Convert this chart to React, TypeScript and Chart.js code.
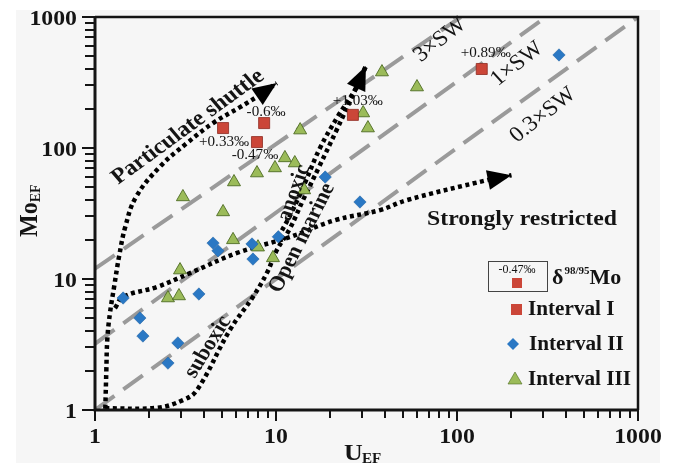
import React, { useEffect, useRef } from 'react';
import { Chart, registerables } from 'chart.js';
Chart.register(...registerables);

// ---- data ----
const INTERVAL_I_U = [5.1, 8.6, 7.85, 26.6, 137];
const INTERVAL_I_MO = [142, 155, 111, 179, 401];
const INTERVAL_I_DELTA = ['+0.33‰', '-0.6‰', '-0.47‰', '+1.03‰', '+0.89‰'];

const INTERVAL_II_U = [366, 29.1, 18.7, 10.3, 4.49, 4.78, 7.37, 7.46, 1.43, 1.77, 1.84, 3.75, 2.87, 2.53];
const INTERVAL_II_MO = [513, 38.7, 60, 21, 18.8, 16.4, 18.5, 14.2, 7.16, 5.04, 3.67, 7.68, 3.25, 2.28];

const INTERVAL_III_U = [13.6, 11.2, 12.7, 9.87, 7.85, 5.86, 14.3, 3.06, 5.1, 5.79, 7.95, 9.62, 2.95, 2.53, 2.91, 38.5, 60.1, 30.3, 32.2];
const INTERVAL_III_MO = [137, 84, 76.8, 70.4, 64.4, 55, 47.8, 42.3, 32.5, 19.9, 17.5, 14.5, 11.7, 7.16, 7.42, 380, 292, 185, 142];

// seawater reference lines (Mo_EF vs U_EF)
const SW3_U = [1, 105];
const SW3_MO = [12, 1000];
const SW1_U = [1, 310];
const SW1_MO = [3.2, 1000];
const SW03_U = [1, 1000];
const SW03_MO = [1, 1000];

// dotted trend curves (last point = arrow tip)
const SHUTTLE_U = [1.14, 1.155, 1.17, 1.21, 1.28, 1.36, 1.47, 1.68, 2.28, 3.22, 4.49, 6.33, 7.95, 10.1];
const SHUTTLE_MO = [1.02, 2, 3.5, 5.5, 9, 15, 25, 42, 71.8, 109, 155, 205, 249, 313];

const OPEN_RIGHT_U = [1.14, 2.2, 3.06, 3.66, 5.56, 7.45, 8.9, 10.1, 11.9, 14.1, 17.3, 21.5, 27.7, 31.4];
const OPEN_RIGHT_MO = [1.03, 1.04, 1.19, 1.42, 4.08, 7.29, 11.1, 16.6, 24.1, 40, 71.8, 135, 287, 423];

const OPEN_LEFT_U = [10.3, 12.3, 14.6, 17.5, 22, 27.7, 31.4];
const OPEN_LEFT_MO = [20.9, 33, 56, 100, 175, 287, 423];

const RESTRICTED_U = [1.29, 1.43, 2.2, 3.35, 6.09, 11.9, 21.2, 37.6, 52.8, 148, 200];
const RESTRICTED_MO = [6.0, 7.3, 8.7, 11.1, 15.8, 20.9, 28.1, 33.6, 40, 57, 62];

// axis ticks
const TICK_VALUES = [1, 10, 100, 1000];
const TICK_LABELS = ['1', '10', '100', '1000'];
const MINOR_STEPS = [2, 3, 4, 5, 6, 7, 8, 9];

// ---- styles ----
const RED = '#cb4638';
const RED_EDGE = '#8e2a20';
const BLUE = '#2a78c4';
const BLUE_EDGE = '#1c5c9c';
const GREEN = '#9bbb59';
const GREEN_EDGE = '#4d6b22';
const INK = '#141414';
const SERIF = '"Liberation Serif", "Times New Roman", serif';
const SX = 1.08;

// label offsets (pixels) for the delta labels of Interval I
const DELTA_OFFSETS = [[1, 14], [2, -11], [-2, 13], [5, -14], [4, -16]];

const zip = (xs: number[], ys: number[]) => xs.map((x, i) => ({ x, y: ys[i] }));

function txt(ctx: CanvasRenderingContext2D, s: string, x: number, y: number, font: string,
  align: CanvasTextAlign = 'center', baseline: CanvasTextBaseline = 'middle', angleDeg = 0, color = INK, sx = SX) {
  ctx.save();
  ctx.translate(x, y);
  const th = (angleDeg * Math.PI) / 180;
  const thp = Math.atan2(sx * Math.sin(th), Math.cos(th));
  ctx.scale(sx, 1);
  ctx.rotate(thp);
  ctx.font = font;
  ctx.textAlign = align;
  ctx.textBaseline = baseline;
  ctx.fillStyle = color;
  ctx.fillText(s, 0, 0);
  ctx.restore();
}

function arrowHead(ctx: CanvasRenderingContext2D, fx: number, fy: number, tx: number, ty: number, len = 24, hw = 10) {
  const a = Math.atan2(ty - fy, tx - fx);
  const bx = tx - len * Math.cos(a);
  const by = ty - len * Math.sin(a);
  ctx.save();
  ctx.fillStyle = '#000';
  ctx.beginPath();
  ctx.moveTo(tx, ty);
  ctx.lineTo(bx + hw * Math.sin(a), by - hw * Math.cos(a));
  ctx.lineTo(bx - hw * Math.sin(a), by + hw * Math.cos(a));
  ctx.closePath();
  ctx.fill();
  ctx.restore();
}

const decorPlugin = {
  id: 'decor',
  beforeDraw(chart: any) {
    const ctx = chart.ctx as CanvasRenderingContext2D;
    ctx.save();
    ctx.fillStyle = '#ffffff';
    ctx.fillRect(0, 0, chart.width, chart.height);
    ctx.fillStyle = '#f6f6f6';
    ctx.fillRect(16, 10, 644, 453);
    ctx.restore();
  },
  afterDraw(chart: any) {
    const ctx = chart.ctx as CanvasRenderingContext2D;
    const xs = chart.scales.x;
    const ys = chart.scales.y;
    const { left, right, top, bottom } = chart.chartArea;
    const X = (v: number) => xs.getPixelForValue(v);
    const Y = (v: number) => ys.getPixelForValue(v);

    // arrowheads
    const arrows: [number[], number[]][] = [
      [SHUTTLE_U, SHUTTLE_MO],
      [OPEN_RIGHT_U, OPEN_RIGHT_MO],
      [RESTRICTED_U, RESTRICTED_MO],
    ];
    arrows.forEach(([u, m]) => {
      const n = u.length;
      arrowHead(ctx, X(u[n - 2]), Y(m[n - 2]), X(u[n - 1]), Y(m[n - 1]));
    });

    // frame and axes
    ctx.save();
    ctx.strokeStyle = INK;
    ctx.lineWidth = 2.5;
    ctx.beginPath();
    ctx.moveTo(left, top);
    ctx.lineTo(right, top);
    ctx.lineTo(right, bottom);
    ctx.stroke();
    ctx.lineWidth = 3;
    ctx.beginPath();
    ctx.moveTo(left, top - 1);
    ctx.lineTo(left, bottom);
    ctx.lineTo(right + 1, bottom);
    ctx.stroke();

    // ticks
    ctx.lineWidth = 2;
    const all: { v: number; major: boolean }[] = [];
    TICK_VALUES.forEach((d, i) => {
      all.push({ v: d, major: true });
      if (i < TICK_VALUES.length - 1) MINOR_STEPS.forEach((m) => all.push({ v: d * m, major: false }));
    });
    all.forEach(({ v, major }) => {
      const py = Math.round(Y(v));
      ctx.beginPath();
      ctx.moveTo(left - (major ? 13 : 10), py);
      ctx.lineTo(left, py);
      ctx.stroke();
      const px = Math.round(X(v));
      ctx.beginPath();
      ctx.moveTo(px, bottom);
      ctx.lineTo(px, bottom + (major ? 11 : 8));
      ctx.stroke();
    });
    ctx.restore();

    // tick labels
    const tickFont = `bold 22px ${SERIF}`;
    TICK_VALUES.forEach((v, i) => {
      txt(ctx, TICK_LABELS[i], 77, Y(v) + 2, tickFont, 'right', 'middle');
      txt(ctx, TICK_LABELS[i], X(v), bottom + 27, tickFont, 'center', 'middle');
    });

    // axis titles
    txt(ctx, 'U', 344, 460, `bold 24px ${SERIF}`, 'left', 'alphabetic');
    txt(ctx, 'EF', 362, 463, `bold 14px ${SERIF}`, 'left', 'alphabetic');
    ctx.save();
    ctx.translate(37, 237);
    ctx.scale(SX, 1);
    ctx.rotate(-Math.PI / 2);
    ctx.fillStyle = INK;
    ctx.textBaseline = 'alphabetic';
    ctx.textAlign = 'left';
    ctx.font = `bold 24px ${SERIF}`;
    ctx.fillText('Mo', 0, 0);
    const w = ctx.measureText('Mo').width;
    ctx.font = `bold 14px ${SERIF}`;
    ctx.fillText('EF', w, 3);
    ctx.restore();

    // delta labels
    INTERVAL_I_DELTA.forEach((s, i) => {
      txt(ctx, s, X(INTERVAL_I_U[i]) + DELTA_OFFSETS[i][0], Y(INTERVAL_I_MO[i]) + DELTA_OFFSETS[i][1],
        `14px ${SERIF}`, 'center', 'middle');
    });

    // annotations
    txt(ctx, 'Particulate shuttle', 188, 127, `bold 22px ${SERIF}`, 'center', 'middle', -36);
    txt(ctx, '3×SW', 440, 40, `22px ${SERIF}`, 'center', 'middle', -38);
    txt(ctx, '1×SW', 517, 64, `22px ${SERIF}`, 'center', 'middle', -38);
    txt(ctx, '0.3×SW', 543, 115, `22px ${SERIF}`, 'center', 'middle', -38);
    txt(ctx, 'Strongly restricted', 522, 219, `bold 22px ${SERIF}`, 'center', 'middle');
    txt(ctx, 'anoxic', 294, 193, `bold 21px ${SERIF}`, 'center', 'middle', -70);
    txt(ctx, 'Open marine', 302, 238, `bold 21px ${SERIF}`, 'center', 'middle', -63);
    txt(ctx, 'suboxic', 208, 347, `bold 21px ${SERIF}`, 'center', 'middle', -58);

    // legend
    ctx.save();
    ctx.strokeStyle = '#444';
    ctx.lineWidth = 1;
    ctx.strokeRect(488.5, 261.5, 59, 30);
    ctx.fillStyle = RED;
    ctx.fillRect(512, 278, 10, 10);
    ctx.restore();
    txt(ctx, '-0.47‰', 517, 270, `12px ${SERIF}`, 'center', 'middle', 0, INK, 1);
    // delta symbol
    ctx.save();
    ctx.fillStyle = INK;
    ctx.textBaseline = 'alphabetic';
    ctx.textAlign = 'left';
    ctx.font = `bold 22px ${SERIF}`;
    ctx.fillText('δ', 552, 284);
    const dw = ctx.measureText('δ').width;
    ctx.font = `bold 11px ${SERIF}`;
    ctx.fillText('98/95', 552 + dw + 1, 274);
    const sw = ctx.measureText('98/95').width;
    ctx.font = `bold 22px ${SERIF}`;
    ctx.fillText('Mo', 552 + dw + sw + 1, 284);
    ctx.restore();

    // legend markers
    ctx.save();
    ctx.fillStyle = RED;
    ctx.strokeStyle = RED_EDGE;
    ctx.lineWidth = 0.6;
    ctx.fillRect(511, 304, 11, 11);
    ctx.fillStyle = BLUE;
    ctx.beginPath();
    ctx.moveTo(513, 338);
    ctx.lineTo(519, 344);
    ctx.lineTo(513, 350);
    ctx.lineTo(507, 344);
    ctx.closePath();
    ctx.fill();
    ctx.fillStyle = GREEN;
    ctx.strokeStyle = GREEN_EDGE;
    ctx.beginPath();
    ctx.moveTo(515, 372);
    ctx.lineTo(522, 384);
    ctx.lineTo(508, 384);
    ctx.closePath();
    ctx.fill();
    ctx.stroke();
    ctx.restore();
    const legFont = `bold 20px ${SERIF}`;
    txt(ctx, 'Interval I', 528, 310, legFont, 'left', 'middle', 0, INK, 1.06);
    txt(ctx, 'Interval II', 529, 345, legFont, 'left', 'middle', 0, INK, 1.06);
    txt(ctx, 'Interval III', 528, 380, legFont, 'left', 'middle', 0, INK, 1.06);
  },
};

export default function App() {
  const ref = useRef<HTMLCanvasElement | null>(null);
  useEffect(() => {
    if (!ref.current) return;
    const dashed = (u: number[], m: number[]) => ({
      data: zip(u, m), showLine: true, borderColor: '#9a9a9a', borderWidth: 4,
      borderDash: [24, 11], pointRadius: 0, fill: false, order: 3,
    });
    const dotted = (u: number[], m: number[]) => ({
      data: zip(u, m), showLine: true, borderColor: '#000', borderWidth: 4.5,
      borderDash: [4, 3.5], pointRadius: 0, fill: false, tension: 0.4, order: 2,
    });
    const chart = new Chart(ref.current, {
      type: 'scatter',
      data: {
        datasets: [
          { label: 'Interval I', data: zip(INTERVAL_I_U, INTERVAL_I_MO), pointStyle: 'rect', pointRadius: 7.8,
            backgroundColor: RED, borderColor: RED_EDGE, borderWidth: 0.8, order: 0 },
          { label: 'Interval II', data: zip(INTERVAL_II_U, INTERVAL_II_MO), pointStyle: 'rectRot', pointRadius: 6.2,
            backgroundColor: BLUE, borderColor: BLUE_EDGE, borderWidth: 0.5, order: 0 },
          { label: 'Interval III', data: zip(INTERVAL_III_U, INTERVAL_III_MO), pointStyle: 'triangle', pointRadius: 7.5,
            backgroundColor: GREEN, borderColor: GREEN_EDGE, borderWidth: 0.9, order: 0 },
          dotted(SHUTTLE_U, SHUTTLE_MO),
          dotted(OPEN_RIGHT_U, OPEN_RIGHT_MO),
          dotted(OPEN_LEFT_U, OPEN_LEFT_MO),
          dotted(RESTRICTED_U, RESTRICTED_MO),
          dashed(SW3_U, SW3_MO),
          dashed(SW1_U, SW1_MO),
          dashed(SW03_U, SW03_MO),
        ] as any,
      },
      options: {
        animation: false,
        responsive: false,
        devicePixelRatio: 1,
        layout: { padding: { left: 0, top: 17, right: 35, bottom: 0 } },
        plugins: { legend: { display: false }, tooltip: { enabled: false } },
        scales: {
          x: {
            type: 'logarithmic', min: 1, max: 1000,
            ticks: { display: false }, grid: { display: false }, border: { display: false },
            afterFit: (s: any) => { s.height = 56; },
          },
          y: {
            type: 'logarithmic', min: 1, max: 1000,
            ticks: { display: false }, grid: { display: false }, border: { display: false },
            afterFit: (s: any) => { s.width = 95; },
          },
        },
      } as any,
      plugins: [decorPlugin],
    });
    return () => chart.destroy();
  }, []);
  return (
    <div style={{ position: 'absolute', left: 0, top: 0, width: 673, height: 466 }}>
      <canvas ref={ref} width={673} height={466} style={{ display: 'block', width: 673, height: 466 }} />
    </div>
  );
}
